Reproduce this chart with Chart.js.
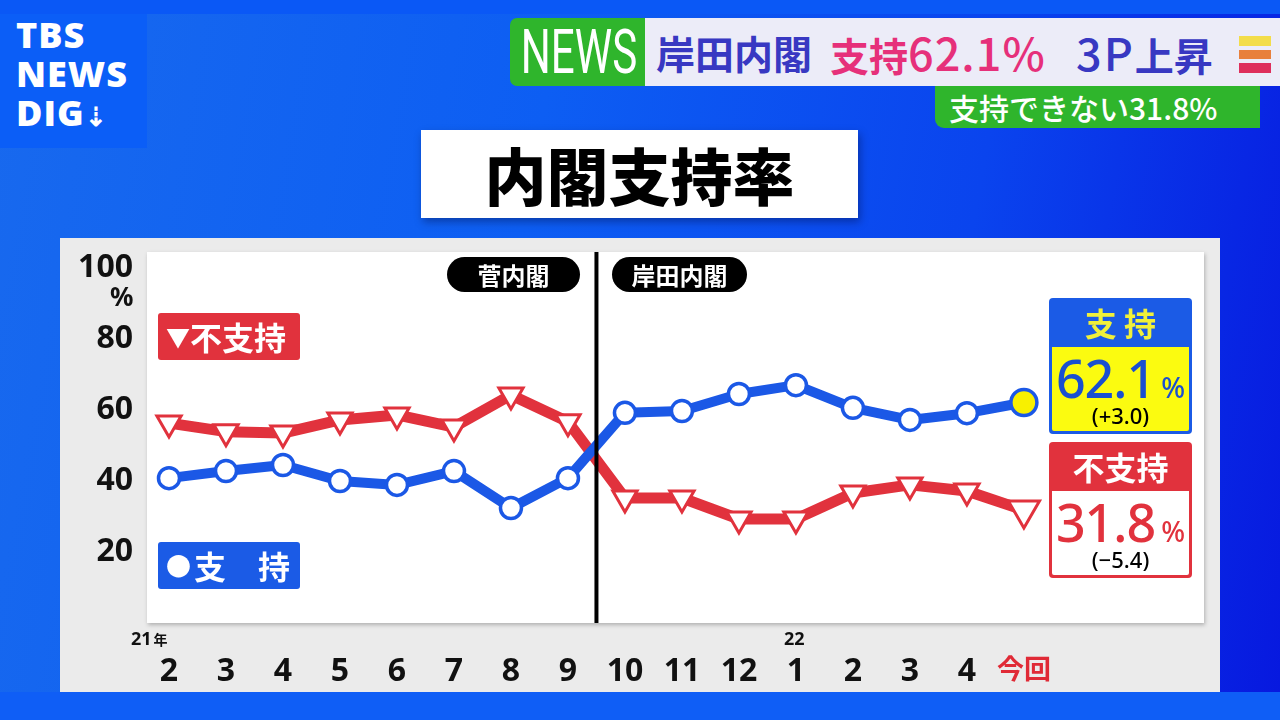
<!DOCTYPE html>
<html><head><meta charset="utf-8">
<script src="https://cdn.jsdelivr.net/npm/chart.js@4.4.0/dist/chart.umd.min.js"></script>
<style>
html,body{margin:0;padding:0;width:1280px;height:720px;overflow:hidden;}
body{position:relative;background:linear-gradient(100deg,#1869ee 0%,#0d5ef3 40%,#0a44ee 72%,#0718df 100%);font-family:"Noto Sans CJK JP","Noto Sans",sans-serif;}
.a{position:absolute;}
#topbar{left:0;top:0;width:1280px;height:14px;background:#0a58f6;}
#bottom{left:0;top:692px;width:1280px;height:28px;background:#0f5ef6;z-index:1;}
#logo{left:0;top:14px;width:147px;height:134px;background:#0b5ef7;color:#fff;font-family:"Open Sans","Noto Sans",sans-serif;font-weight:800;font-size:36px;line-height:39px;padding:1px 0 0 16px;box-sizing:border-box;letter-spacing:1px;}
#news{left:510px;top:18px;width:137px;height:68px;background:#2fb52c;border-radius:7px 0 0 7px;color:#fff;font-family:Roboto,sans-serif;font-size:62px;line-height:68px;overflow:hidden;}
#news span{position:absolute;left:50%;top:0;transform:translateX(-50%) scaleX(0.68);transform-origin:center;white-space:nowrap;}
#banner{left:645px;top:18px;width:635px;height:68px;background:#ececf8;}
.hb{top:18px;height:68px;line-height:68px;font-size:39px;font-weight:700;}
#sub{left:935px;top:86px;width:325px;height:42px;background:#2fb52c;border-radius:0 0 0 9px;color:#fff;font-size:30px;line-height:42px;font-weight:500;padding-left:14px;box-sizing:border-box;}
#title{left:421px;top:130px;width:437px;height:88px;background:#fff;box-shadow:2px 4px 8px rgba(0,0,40,0.35);text-align:center;font-size:62px;font-weight:900;line-height:88px;color:#000;}
#panel{left:60px;top:238px;width:1160px;height:455px;background:#ebebeb;z-index:0;}
canvas{position:absolute;left:0;top:0;z-index:2;}
.ov{z-index:3;}
.pill{top:257px;height:35px;background:#000;border-radius:18px;color:#fff;font-size:24px;font-weight:700;text-align:center;line-height:35px;}
.leg{left:158px;width:142px;height:47px;border-radius:3px;color:#fff;font-size:32px;font-weight:700;line-height:47px;padding-left:8px;box-sizing:border-box;}
.rb{left:1049px;width:143px;height:136px;border-radius:4px;}
.rbh{left:0;top:0;width:143px;height:48px;text-align:center;font-size:32px;font-weight:700;line-height:48px;}
.rbi{left:3px;top:49px;width:137px;height:84px;border-radius:0 0 2px 2px;}
.big{left:0;top:3px;width:137px;text-align:center;font-family:"Noto Sans",sans-serif;font-size:52px;font-weight:500;line-height:56px;letter-spacing:-1px;}
.big small{font-size:28px;margin-left:6px;letter-spacing:0;}
.chg{left:0;top:55px;width:137px;text-align:center;font-family:"Noto Sans",sans-serif;font-size:22px;line-height:26px;color:#000;font-weight:500;}
.ax{font-family:"Noto Sans",sans-serif;font-weight:700;color:#111;}
</style></head>
<body>
<div class="a" id="topbar"></div>
<div class="a" id="logo">TBS<br>NEWS<br>DIG<span style="font-size:26px">⇣</span></div>
<div class="a" id="news"><span>NEWS</span></div>
<div class="a" id="banner"></div>
<div class="a hb" style="left:656px;color:#3838c2;">岸田内閣</div>
<div class="a hb" style="left:830px;color:#e6307a;">支持<span style="font-size:45px;letter-spacing:1px;font-weight:500;">62.1%</span></div>
<div class="a hb" style="left:1076px;color:#3838c2;"><span style="font-size:45px;letter-spacing:2px;font-weight:500;">3P</span>上昇</div>
<div class="a" style="left:1239px;top:36px;width:32px;height:10px;background:#f3dd4a;"></div>
<div class="a" style="left:1239px;top:50px;width:32px;height:9px;background:#e8803c;"></div>
<div class="a" style="left:1239px;top:63px;width:32px;height:10px;background:#de2f5c;"></div>
<div class="a" id="sub">支持できない31.8%</div>
<div class="a" id="title">内閣支持率</div>
<div class="a" id="panel"></div>
<div class="a" id="bottom"></div>
<canvas id="c" width="1280" height="720"></canvas>
<div class="a ov pill" style="left:447px;width:133px;">菅内閣</div>
<div class="a ov pill" style="left:612px;width:135px;">岸田内閣</div>
<div class="a ov leg" style="top:313px;background:#e1323d;"><span style="font-size:24px;vertical-align:3px;">▼</span>不支持</div>
<div class="a ov leg" style="top:542px;background:#1b5be6;"><span style="font-size:25px;vertical-align:3px;margin-right:3px;">●</span>支　持</div>
<div class="a ov rb" style="top:298px;background:#1b5be6;">
  <div class="a rbh" style="color:#f0f03a;">支 持</div>
  <div class="a rbi" style="background:#fbfb10;">
    <div class="a big" style="color:#1a4fd0;">62.1<small>%</small></div>
    <div class="a chg">(+3.0)</div>
  </div>
</div>
<div class="a ov rb" style="top:442px;background:#e1323d;">
  <div class="a rbh" style="color:#fff;">不支持</div>
  <div class="a rbi" style="background:#fff;">
    <div class="a big" style="color:#e1323d;">31.8<small>%</small></div>
    <div class="a chg">(−5.4)</div>
  </div>
</div>
<div class="a ov ax" style="left:110px;top:281px;font-size:26px;line-height:30px;">%</div>
<div class="a ov ax" style="left:131px;top:627px;font-size:18px;line-height:22px;">21<span style="font-family:'Noto Sans CJK JP';font-size:14px;margin-left:2px;">年</span></div>
<div class="a ov ax" style="left:784px;top:627px;font-size:18px;line-height:22px;">22</div>
<script>
const months = ['2','3','4','5','6','7','8','9','10','11','12','1','2','3','4','今回'];
const support = [40.8,42.8,44.5,40.0,38.9,42.8,32.4,40.8,59.2,59.7,64.5,67.0,60.6,57.2,59.1,62.1];
const disapprove = [56.3,53.9,53.5,57.2,58.6,55.2,64.2,56.7,35.2,35.2,29.3,29.3,36.6,38.9,37.2,31.8];
const yTicks = [20,40,60,80,100];
const cabinetChangeAt = 7.5;

const BLUE='#1b58e6', RED='#e1323d';
const last = months.length-1;

const plotBg = {
  id:'plotBg',
  beforeDraw(chart){
    const {ctx, chartArea:a} = chart;
    ctx.save();
    ctx.shadowColor='rgba(0,0,0,0.25)';
    ctx.shadowBlur=4; ctx.shadowOffsetX=1; ctx.shadowOffsetY=2;
    ctx.fillStyle='#fff';
    ctx.fillRect(a.left,a.top,a.right-a.left,a.bottom-a.top);
    ctx.restore();
  },
  afterDatasetsDraw(chart){
    const {ctx, chartArea:a, scales} = chart;
    const x = scales.x.getPixelForValue(cabinetChangeAt);
    ctx.save();
    ctx.strokeStyle='#000'; ctx.lineWidth=4;
    ctx.beginPath(); ctx.moveTo(x,a.top); ctx.lineTo(x,a.bottom); ctx.stroke();
    ctx.restore();
  }
};

new Chart(document.getElementById('c'), {
  type:'line',
  data:{
    datasets:[
      {
        label:'支持',
        data: support.map((v,i)=>({x:i,y:v})),
        borderColor:BLUE, borderWidth:10, borderJoinStyle:'round', borderCapStyle:'round',
        pointRadius: support.map((_,i)=> i===last?13:10.5),
        pointBackgroundColor: support.map((_,i)=> i===last?'#f8f000':'#fff'),
        pointBorderColor:BLUE, pointBorderWidth:3.5,
        tension:0
      },
      {
        label:'不支持',
        data: disapprove.map((v,i)=>({x:i,y:v})),
        borderColor:RED, borderWidth:11, borderJoinStyle:'round', borderCapStyle:'round',
        pointStyle:'triangle', pointRotation:180,
        pointRadius: disapprove.map((_,i)=> i===last?18:14),
        pointBackgroundColor:'#fff', pointBorderColor:RED, pointBorderWidth:3,
        tension:0
      }
    ]
  },
  options:{
    responsive:false, animation:false, devicePixelRatio:1,
    layout:{padding:{left:0,right:76,top:252,bottom:0}},
    plugins:{legend:{display:false}, tooltip:{enabled:false}},
    scales:{
      x:{
        type:'linear', min:-0.386, max:18.16,
        grid:{display:false, drawTicks:false}, border:{display:false},
        afterBuildTicks:(axis)=>{ axis.ticks = months.map((_,i)=>({value:i})); },
        afterFit:(s)=>{ s.height = 97; },
        ticks:{
          autoSkip:false, maxRotation:0, padding:30,
          callback:(v)=>months[v],
          color:(c)=> c.index===last ? '#e02a36' : '#111',
          font:(c)=> c.index===last ? {family:'"Noto Sans CJK JP"', size:27, weight:'700'} : {family:'"Noto Sans"', size:32, weight:'700'}
        }
      },
      y:{
        min:0, max:104.5,
        grid:{display:false, drawTicks:false}, border:{display:false},
        afterBuildTicks:(axis)=>{ axis.ticks = yTicks.map(v=>({value:v})); },
        afterFit:(s)=>{ s.width = 147; },
        ticks:{ padding:14, color:'#111', font:{family:'"Noto Sans"', size:32, weight:'700'} }
      }
    }
  },
  plugins:[plotBg]
});
</script>
</body></html>
